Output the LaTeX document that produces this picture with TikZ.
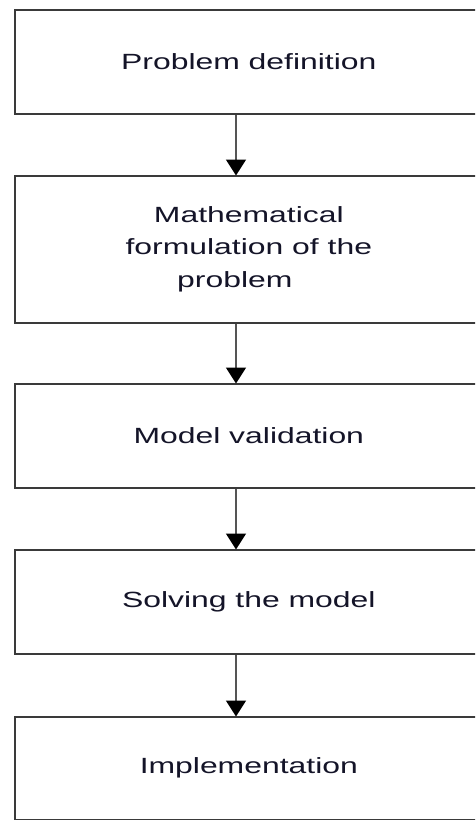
\documentclass[tikz,border=0pt]{standalone}
\usepackage{fontspec}
\setmainfont{Liberation Sans}[FakeStretch=1.45]
\usetikzlibrary{arrows.meta}
\definecolor{boxline}{HTML}{3A3A3A}
\definecolor{arrline}{HTML}{555555}
\definecolor{txt}{HTML}{141428}
\begin{document}
\begin{tikzpicture}[x=1pt,y=1pt,
  stepbox/.style={draw=boxline, line width=1.6pt, rectangle, anchor=north west,
    minimum width=468pt, inner sep=0pt, text=txt, align=center,
    font=\fontsize{22}{32.5}\selectfont},
  arr/.style={draw=arrline, line width=1.6pt,
    -{Triangle[width=20pt,length=16pt,color=black]}, shorten >=-0.5pt}]
\useasboundingbox (0,0) rectangle (475,-820);
\fill[white] (0,0) rectangle (475,-820);
\clip (0,0) rectangle (475,-820);
\coordinate (ax) at (236,0);
\node[stepbox, minimum height=104pt] (b1) at (14,-9) {Problem definition};
\node[stepbox, minimum height=147pt] (b2) at (14,-175) {Mathematical\\formulation of the\\problem\rule{28pt}{0pt}};
\node[stepbox, minimum height=104pt] (b3) at (14,-383) {Model validation};
\node[stepbox, minimum height=104pt] (b4) at (14,-549) {Solving the model};
\node[stepbox, minimum height=103pt] (b5) at (14,-716) {Implementation};
\draw[arr] (b1.south -| ax) -- (b2.north -| ax);
\draw[arr] (b2.south -| ax) -- (b3.north -| ax);
\draw[arr] (b3.south -| ax) -- (b4.north -| ax);
\draw[arr] (b4.south -| ax) -- (b5.north -| ax);
\end{tikzpicture}
\end{document}
